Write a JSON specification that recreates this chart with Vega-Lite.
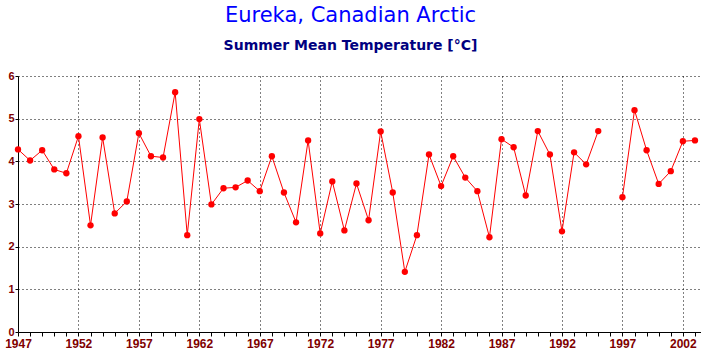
{
  "$schema": "https://vega.github.io/schema/vega-lite/v6.json",
  "width": 683,
  "height": 256,
  "autosize": {"type": "none"},
  "padding": {"left": 18, "top": 76, "right": 0, "bottom": 21},
  "background": "#ffffff",
  "title": {
    "text": "Eureka, Canadian Arctic",
    "subtitle": "Summer Mean Temperature [°C]",
    "anchor": "middle",
    "frame": "group",
    "dx": -9,
    "offset": 17,
    "font": "DejaVu Sans",
    "fontSize": 21,
    "fontWeight": "normal",
    "color": "#0000ff",
    "subtitleFont": "DejaVu Sans",
    "subtitleFontSize": 14,
    "subtitleFontWeight": "bold",
    "subtitleColor": "#000080",
    "subtitlePadding": 13
  },
  "data": {
    "values": [
      {"year": 1947, "temp": 4.28},
      {"year": 1948, "temp": 4.02},
      {"year": 1949, "temp": 4.26},
      {"year": 1950, "temp": 3.81},
      {"year": 1951, "temp": 3.72},
      {"year": 1952, "temp": 4.59},
      {"year": 1953, "temp": 2.50},
      {"year": 1954, "temp": 4.56},
      {"year": 1955, "temp": 2.78},
      {"year": 1956, "temp": 3.06},
      {"year": 1957, "temp": 4.66},
      {"year": 1958, "temp": 4.12},
      {"year": 1959, "temp": 4.09},
      {"year": 1960, "temp": 5.62},
      {"year": 1961, "temp": 2.27},
      {"year": 1962, "temp": 4.99},
      {"year": 1963, "temp": 2.99},
      {"year": 1964, "temp": 3.37},
      {"year": 1965, "temp": 3.39},
      {"year": 1966, "temp": 3.55},
      {"year": 1967, "temp": 3.30},
      {"year": 1968, "temp": 4.12},
      {"year": 1969, "temp": 3.27},
      {"year": 1970, "temp": 2.57},
      {"year": 1971, "temp": 4.49},
      {"year": 1972, "temp": 2.31},
      {"year": 1973, "temp": 3.53},
      {"year": 1974, "temp": 2.38},
      {"year": 1975, "temp": 3.48},
      {"year": 1976, "temp": 2.62},
      {"year": 1977, "temp": 4.70},
      {"year": 1978, "temp": 3.27},
      {"year": 1979, "temp": 1.41},
      {"year": 1980, "temp": 2.27},
      {"year": 1981, "temp": 4.16},
      {"year": 1982, "temp": 3.42},
      {"year": 1983, "temp": 4.12},
      {"year": 1984, "temp": 3.62},
      {"year": 1985, "temp": 3.30},
      {"year": 1986, "temp": 2.22},
      {"year": 1987, "temp": 4.52},
      {"year": 1988, "temp": 4.33},
      {"year": 1989, "temp": 3.20},
      {"year": 1990, "temp": 4.71},
      {"year": 1991, "temp": 4.16},
      {"year": 1992, "temp": 2.36},
      {"year": 1993, "temp": 4.21},
      {"year": 1994, "temp": 3.93},
      {"year": 1995, "temp": 4.71},
      {"year": 1996, "temp": null},
      {"year": 1997, "temp": 3.16},
      {"year": 1998, "temp": 5.20},
      {"year": 1999, "temp": 4.26},
      {"year": 2000, "temp": 3.47},
      {"year": 2001, "temp": 3.77},
      {"year": 2002, "temp": 4.47},
      {"year": 2003, "temp": 4.49}
    ]
  },
  "encoding": {
    "x": {
      "field": "year",
      "type": "quantitative",
      "scale": {"domain": [1947, 2003.5], "nice": false, "zero": false},
      "axis": {
        "title": null,
        "values": [1947,1948,1949,1950,1951,1952,1953,1954,1955,1956,1957,1958,1959,1960,1961,1962,1963,1964,1965,1966,1967,1968,1969,1970,1971,1972,1973,1974,1975,1976,1977,1978,1979,1980,1981,1982,1983,1984,1985,1986,1987,1988,1989,1990,1991,1992,1993,1994,1995,1996,1997,1998,1999,2000,2001,2002,2003],
        "labelExpr": "(datum.value - 1947) % 5 == 0 ? datum.value : ''",
        "labelOverlap": false,
        "labelFlush": false,
        "labelFont": "Liberation Sans",
        "labelFontSize": 12,
        "labelFontWeight": "bold",
        "labelColor": "#800000",
        "labelPadding": 2,
        "domainColor": "#000000",
        "domainWidth": 1,
        "tickColor": "#000000",
        "tickSize": 4,
        "tickWidth": 1,
        "grid": true,
        "gridColor": "#000000",
        "gridDash": [1, 3],
        "gridOpacity": {"condition": {"test": "(datum.value - 1947) % 5 == 0 && datum.value > 1947", "value": 1}, "value": 0}
      }
    },
    "y": {
      "field": "temp",
      "type": "quantitative",
      "scale": {"domain": [0, 6], "nice": false},
      "axis": {
        "title": null,
        "values": [0, 1, 2, 3, 4, 5, 6],
        "labelFont": "Liberation Sans",
        "labelFontSize": 11,
        "labelFontWeight": "bold",
        "labelColor": "#800000",
        "labelPadding": 1,
        "domainColor": "#000000",
        "tickColor": "#000000",
        "tickSize": 3,
        "grid": true,
        "gridColor": "#000000",
        "gridDash": [1, 3],
        "gridOpacity": 1
      }
    }
  },
  "layer": [
    {
      "mark": {"type": "line", "color": "#ff0000", "strokeWidth": 1}
    },
    {
      "mark": {"type": "point", "filled": true, "shape": "circle", "size": 40, "color": "#ff0000", "opacity": 1}
    }
  ],
  "config": {
    "view": {"stroke": null}
  }
}
